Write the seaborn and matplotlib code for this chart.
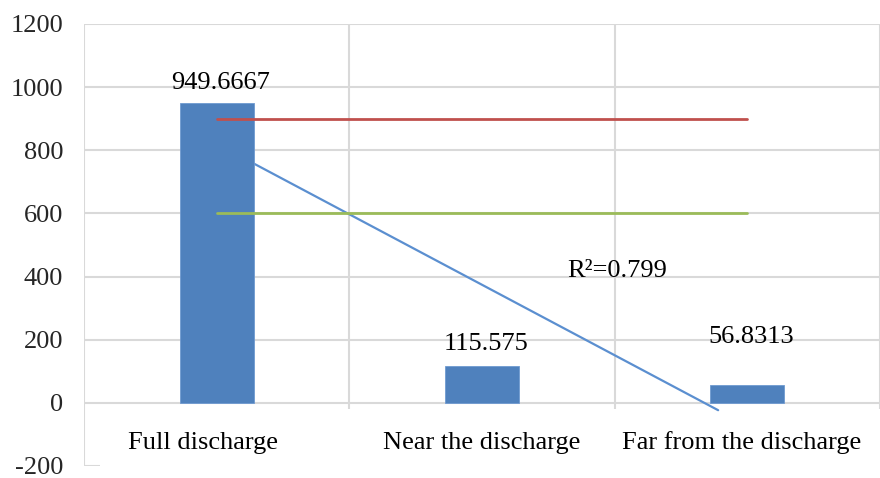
import numpy as np
import matplotlib
matplotlib.use("Agg")
import matplotlib.pyplot as plt
import seaborn as sns

# chart data
categories = ["Full discharge", "Near the discharge", "Far from the discharge"]
values = [949.6667, 115.575, 56.8313]
value_labels = ["949.6667", "115.575", "56.8313"]
upper_limit = 900
lower_limit = 600
r2_text = "R\u00b2=0.799"
y_ticks = [-200, 0, 200, 400, 600, 800, 1000, 1200]

sns.set_style("white")
plt.rcParams['font.family'] = ['Liberation Serif', 'DejaVu Serif']
FS = 19
GRID = '#D9D9D9'

fig = plt.figure(figsize=(8.8, 4.78), dpi=100)
ax = fig.add_axes([84 / 880, 12 / 478, 796 / 880, 442 / 478])

# gridlines (only from 0 up, as in the reference)
ax.hlines([t for t in y_ticks if t >= 0], -0.5, 2.5, color=GRID, lw=1.5, zorder=0)
ax.vlines([0.5, 1.5, 2.5], -20, 1200, color=GRID, lw=1.5, zorder=0)
ax.vlines(-0.5, -200, 1200, color=GRID, lw=1.5, zorder=0)
ax.hlines(-200, -0.5, -0.44, color=GRID, lw=1.5, zorder=0)

# linear trend through the bar values
xs = np.arange(len(values))
slope, intercept = np.polyfit(xs, values, 1)
tx = np.array([0, 1.89])
ax.plot(tx, intercept + slope * tx, color='#5B8FD0', lw=1.6, zorder=1)

sns.barplot(x=categories, y=values, color='#4F81BD', width=0.28, saturation=1,
            edgecolor='#6F9AD0', linewidth=0.6, ax=ax, zorder=2)

# reference levels
ax.plot([0, 2], [upper_limit, upper_limit], color='#C0504D', lw=2.0, zorder=3)
ax.plot([0, 2], [lower_limit, lower_limit], color='#9BBB59', lw=2.0, zorder=3)

# value labels
label_y = [1012, 188, 208]
for i, (lab, ly) in enumerate(zip(value_labels, label_y)):
    ax.text(i + 0.015, ly, lab, ha='center', va='center', fontsize=FS, color='#000000')

ax.text(1.51, 418, r2_text, ha='center', va='center', fontsize=FS, color='#000000')

# category labels between 0 and -200
label_dx = [-0.052, 0, -0.02]
for i, (cat, dx) in enumerate(zip(categories, label_dx)):
    ax.text(i + dx, -126, cat, ha='center', va='center', fontsize=FS, color='#000000')

ax.set_xlim(-0.5, 2.5)
ax.set_ylim(-200, 1200)
ax.set_xticks([])
ax.set_yticks(y_ticks)
ax.set_yticklabels([str(t) for t in y_ticks], fontsize=FS)
ax.tick_params(axis='y', length=0, pad=15)
ax.set_xlabel("")
ax.set_ylabel("")
for s in ax.spines.values():
    s.set_visible(False)

fig.savefig("out.png", dpi=100)
